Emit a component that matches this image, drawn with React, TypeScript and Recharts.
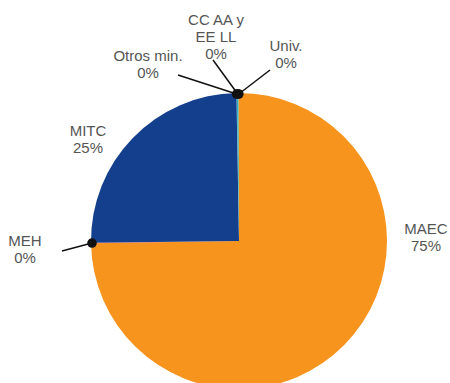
import React from "react";
import { PieChart, Pie, Cell } from "recharts";

const names = ["MAEC", "MEH", "MITC", "Otros min.", "CC AA y EE LL", "Univ."];
const values = [75, 0.06, 25, 0.04, 0.2, 0.04];
const labelLines: Record<string, string[]> = {
  MAEC: ["MAEC"],
  MEH: ["MEH"],
  MITC: ["MITC"],
  "Otros min.": ["Otros min."],
  "CC AA y EE LL": ["CC AA y", "EE LL"],
  "Univ.": ["Univ."],
};
const colors = ["#F7941D", "#E8505B", "#143F8C", "#2A5BA8", "#2BB5C6", "#F7941D"];

// layout: text center offsets relative to pie center; leader line start offsets
const layout: Record<string, { x: number; y: number; line?: [number, number] }> = {
  MAEC: { x: 187, y: -13 },
  MITC: { x: -151, y: -111 },
  MEH: { x: -214, y: -1, line: [-177, 10] },
  "Otros min.": { x: -91, y: -186, line: [-61, -166] },
  "CC AA y EE LL": { x: -23, y: -222, line: [-26, -181] },
  "Univ.": { x: 47, y: -196, line: [31, -171] },
};

const data = names.map((n, i) => ({ name: n, value: values[i] }));

const RAD = Math.PI / 180;

const renderLabel = (props: any) => {
  const { cx, cy, midAngle, outerRadius, name, percent } = props;
  const cfg = layout[name];
  if (!cfg) return null;
  const lines = [...labelLines[name], `${Math.round(percent * 100)}%`];
  const px = cx + (outerRadius - 1) * Math.cos(-midAngle * RAD);
  const py = cy + (outerRadius - 1) * Math.sin(-midAngle * RAD);
  return (
    <g>
      {cfg.line && (
        <>
          <line
            x1={cx + cfg.line[0]}
            y1={cy + cfg.line[1]}
            x2={px}
            y2={py}
            stroke="#111"
            strokeWidth={1.5}
          />
          <circle cx={px} cy={py} r={4.8} fill="#111" />
        </>
      )}
      {lines.map((t, i) => (
        <text
          key={i}
          x={cx + cfg.x}
          y={cy + cfg.y + i * 17}
          textAnchor="middle"
          dominantBaseline="central"
          fill="#555"
          fontSize={15}
          fontFamily="Liberation Sans, Arial, sans-serif"
        >
          {t}
        </text>
      ))}
    </g>
  );
};

export default function App() {
  return (
    <div style={{ position: "absolute", left: 0, top: 0 }}>
      <PieChart width={450} height={383} margin={{ top: 0, right: 0, bottom: 0, left: 0 }}>
        <Pie
          data={data}
          dataKey="value"
          nameKey="name"
          cx={239}
          cy={241}
          outerRadius={148}
          startAngle={90}
          endAngle={-270}
          stroke="none"
          label={renderLabel}
          labelLine={false}
          isAnimationActive={false}
        >
          {data.map((d, i) => (
            <Cell key={d.name} fill={colors[i]} />
          ))}
        </Pie>
      </PieChart>
    </div>
  );
}
